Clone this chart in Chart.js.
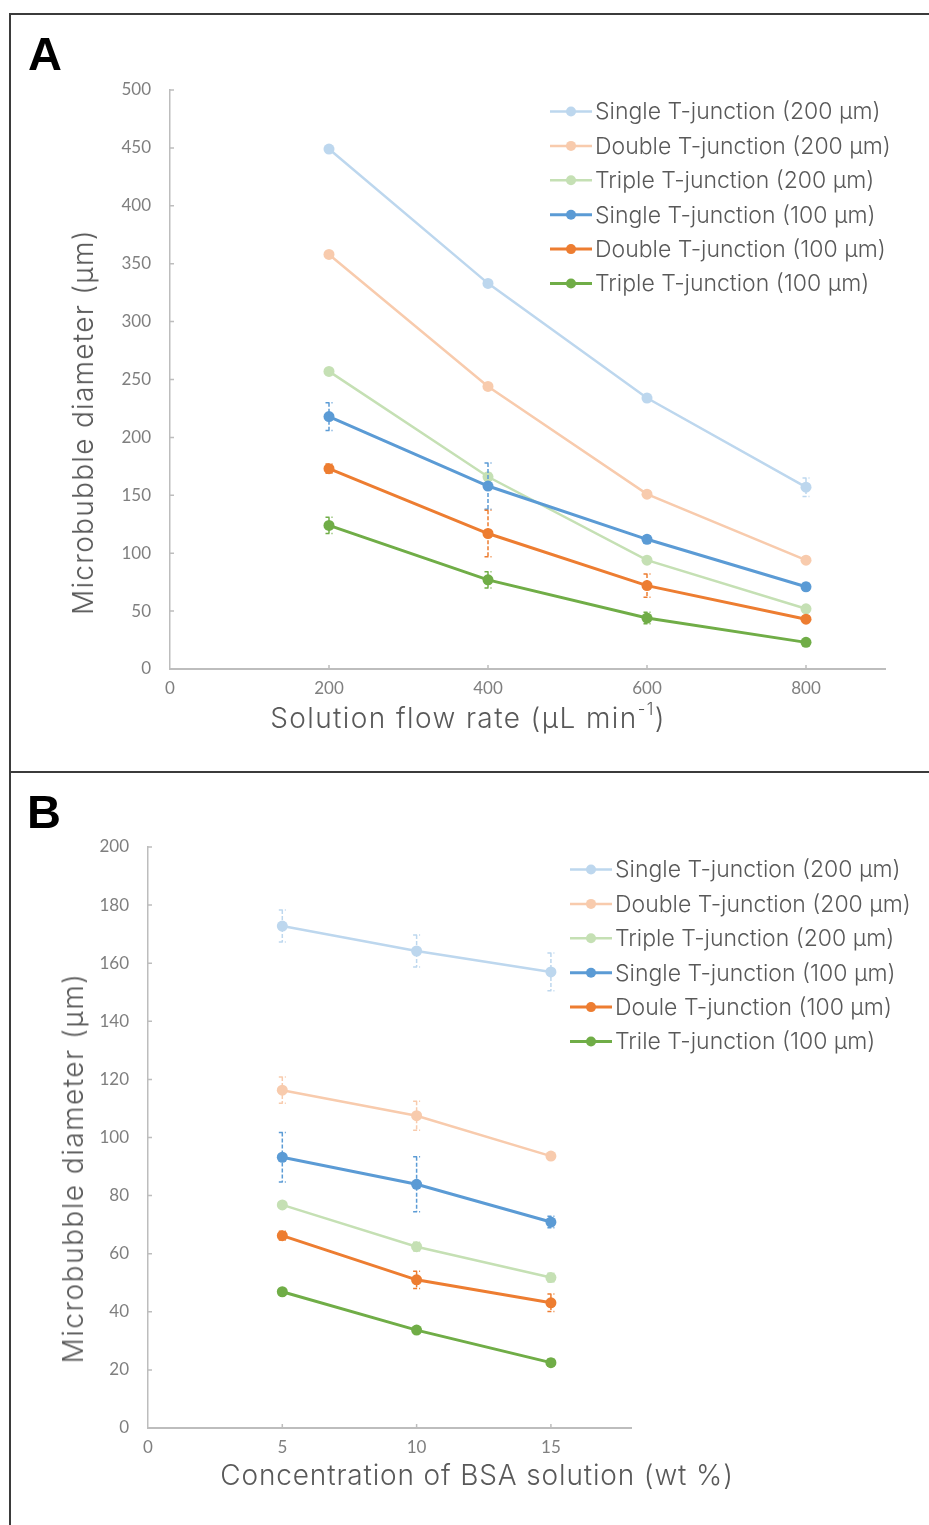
<!DOCTYPE html>
<html>
<head>
<meta charset="utf-8">
<title>Microbubble diameter</title>
<script src="https://cdn.jsdelivr.net/npm/chart.js@4.4.1/dist/chart.umd.min.js"></script>
<style>
  body { margin: 0; background: #fff; width: 929px; height: 1525px; overflow: hidden; position: relative; font-family: Lato, sans-serif; }
  .frame { position: absolute; box-sizing: border-box; border: 2px solid #3b3b3b; border-right: none; }
  #frameA { left: 9px; top: 13px; width: 930px; height: 760px; }
  #frameB { left: 9px; top: 771px; width: 930px; height: 800px; border-top: none; border-bottom: none; }
  .box { position: absolute; }
  #boxA { left: 12px; top: 16px; width: 917px; height: 755px; }
  #boxB { left: 12px; top: 774px; width: 917px; height: 751px; }
  .letter { position: absolute; font: bold 47px "Liberation Sans", Arial, sans-serif; line-height: 47px; color: #000; }
  .title { position: absolute; color: #595959; font-family: Inter, sans-serif; font-weight: 300; font-size: 28px; line-height: 1; white-space: nowrap; transform: translate(-50%, -50%); }
  .title.y { transform: translate(-50%, -50%) rotate(-90deg); }
  .title sup { font-size: 0.6em; line-height: 0; vertical-align: 0.75em; }
</style>
</head>
<body>
<div class="frame" id="frameA"></div>
<div class="frame" id="frameB"></div>

<div class="box" id="boxA"><canvas id="chartA"></canvas></div>
<div class="box" id="boxB"><canvas id="chartB"></canvas></div>

<div class="letter" style="left:28px; top:30px;">A</div>
<div class="letter" style="left:27px; top:788px;">B</div>

<div class="title y" style="left:83px; top:422px; letter-spacing:1.3px;">Microbubble diameter (μm)</div>
<div class="title" style="left:468px; top:718px; letter-spacing:1.4px;">Solution flow rate (μL min<sup>-1</sup>)</div>
<div class="title y" style="left:73px; top:1168px; letter-spacing:1.5px;">Microbubble diameter (μm)</div>
<div class="title" style="left:477px; top:1475px; letter-spacing:0.85px;">Concentration of BSA solution (wt %)</div>

<script>
// series colours, light = 200 µm channels, dark = 100 µm channels
const seriesColors = ['#bdd7ee', '#f8cbad', '#c5e0b4', '#5b9bd5', '#ed7d31', '#70ad47'];

// --- A: diameter vs solution flow rate ---
const flowRates = [200, 400, 600, 800];
const flowLabels = [
  'Single T-junction (200 μm)', 'Double T-junction (200 μm)', 'Triple T-junction (200 μm)',
  'Single T-junction (100 μm)', 'Double T-junction (100 μm)', 'Triple T-junction (100 μm)'
];
const flowSingle200 = [449, 333, 234, 157];
const flowDouble200 = [358, 244, 151, 94];
const flowTriple200 = [257, 166, 94, 52];
const flowSingle100 = [218, 158, 112, 71];
const flowDouble100 = [173, 117, 72, 43];
const flowTriple100 = [124, 77, 44, 23];

const flowSingle200Err = [2, 2, 3, 8];
const flowDouble200Err = [2, 2, 2, 2];
const flowTriple200Err = [2, 3, 2, 2];
const flowSingle100Err = [12, 20, 3, 3];
const flowDouble100Err = [4, 20, 10, 2];
const flowTriple100Err = [7, 7, 5, 2];

// --- B: diameter vs BSA concentration ---
const bsaConc = [5, 10, 15];
const bsaLabels = [
  'Single T-junction (200 μm)', 'Double T-junction (200 μm)', 'Triple T-junction (200 μm)',
  'Single T-junction (100 μm)', 'Doule T-junction (100 μm)', 'Trile T-junction (100 μm)'
];
const bsaSingle200 = [172.8, 164.2, 157.0];
const bsaDouble200 = [116.3, 107.5, 93.6];
const bsaTriple200 = [76.8, 62.4, 51.8];
const bsaSingle100 = [93.2, 83.9, 70.9];
const bsaDouble100 = [66.2, 51.0, 43.1];
const bsaTriple100 = [46.9, 33.7, 22.5];

const bsaSingle200Err = [5.5, 5.5, 6.5];
const bsaDouble200Err = [4.5, 5, 1];
const bsaTriple200Err = [1, 1.5, 1.5];
const bsaSingle100Err = [8.5, 9.5, 2];
const bsaDouble100Err = [1.5, 3, 3];
const bsaTriple100Err = [1, 1, 1.2];

const AXIS_GREY = '#bdbdbd';

function makeSeries(xs, ys, errs, label, i) {
  const color = seriesColors[i];
  return {
    label: label,
    data: xs.map((x, k) => ({ x: x, y: ys[k] })),
    errors: errs,
    borderColor: color,
    backgroundColor: color,
    pointBackgroundColor: color,
    pointBorderWidth: 0,
    pointRadius: 5.5,
    borderWidth: i < 3 ? 2.5 : 3,
    tension: 0,
    order: -i   // later series sit on top
  };
}

// dashed vertical error bars with short caps
const errorBars = {
  id: 'errorBars',
  afterDatasetDraw(chart, args) {
    const ds = chart.data.datasets[args.index];
    if (!ds.errors) return;
    const y = chart.scales.y;
    const ctx = chart.ctx;
    ctx.save();
    ctx.strokeStyle = ds.borderColor;
    ctx.lineWidth = 1.5;
    ctx.setLineDash([4, 2]);
    args.meta.data.forEach((pt, k) => {
      const v = ds.data[k].y, e = ds.errors[k];
      const top = y.getPixelForValue(v + e);
      const bot = y.getPixelForValue(v - e);
      ctx.beginPath();
      ctx.moveTo(pt.x, top); ctx.lineTo(pt.x, bot);
      ctx.moveTo(pt.x - 3.5, top); ctx.lineTo(pt.x + 3.5, top);
      ctx.moveTo(pt.x - 3.5, bot); ctx.lineTo(pt.x + 3.5, bot);
      ctx.stroke();
    });
    ctx.restore();
  }
};

// tick marks pointing into the plot area
const innerTicks = {
  id: 'innerTicks',
  afterDraw(chart) {
    const { ctx, chartArea, scales } = chart;
    ctx.save();
    ctx.strokeStyle = AXIS_GREY;
    ctx.lineWidth = 1.5;
    ctx.beginPath();
    scales.x.ticks.forEach(t => {
      if (t.value === 0) return;
      const px = scales.x.getPixelForValue(t.value);
      ctx.moveTo(px, chartArea.bottom);
      ctx.lineTo(px, chartArea.bottom - 4);
    });
    scales.y.ticks.forEach(t => {
      if (t.value === 0) return;
      const py = scales.y.getPixelForValue(t.value);
      ctx.moveTo(chartArea.left, py);
      ctx.lineTo(chartArea.left + 4, py);
    });
    ctx.stroke();
    ctx.restore();
  }
};

// line-and-marker legend placed freely on the canvas
const lineLegend = {
  id: 'lineLegend',
  afterDraw(chart, args, opts) {
    const ctx = chart.ctx;
    ctx.save();
    ctx.font = opts.font;
    ctx.fillStyle = opts.color;
    ctx.textBaseline = 'middle';
    chart.data.datasets.forEach((ds, i) => {
      const y = opts.y + i * opts.rowHeight;
      ctx.strokeStyle = ds.borderColor;
      ctx.lineWidth = ds.borderWidth;
      ctx.beginPath();
      ctx.moveTo(opts.x, y);
      ctx.lineTo(opts.x + opts.lineLength, y);
      ctx.stroke();
      ctx.fillStyle = ds.borderColor;
      ctx.beginPath();
      ctx.arc(opts.x + opts.lineLength / 2, y, 5, 0, Math.PI * 2);
      ctx.fill();
      ctx.fillStyle = opts.color;
      ctx.fillText(ds.label, opts.x + opts.lineLength + 3, y + 1);
    });
    ctx.restore();
  }
};

function axes(xMax, xStep, yMax, yStep, yWidth) {
  const tickFont = { family: 'Lato', size: 17 };
  return {
    x: {
      type: 'linear', min: 0, max: xMax,
      ticks: { stepSize: xStep, includeBounds: false, color: '#7f7f7f', font: tickFont, padding: 9, maxRotation: 0 },
      grid: { display: false, drawTicks: false },
      border: { color: AXIS_GREY, width: 2 },
      afterFit: s => { s.height = 82; }
    },
    y: {
      type: 'linear', min: 0, max: yMax,
      ticks: { stepSize: yStep, includeBounds: false, color: '#7f7f7f', font: tickFont, padding: 19 },
      grid: { display: false, drawTicks: false },
      border: { color: AXIS_GREY, width: 1.5 },
      afterFit: s => { s.width = yWidth; }
    }
  };
}

function makeChart(id, datasets, scales, padding, legendPos) {
  return new Chart(document.getElementById(id), {
    type: 'line',
    data: { datasets: datasets },
    options: {
      responsive: true,
      maintainAspectRatio: false,
      animation: false,
      layout: { padding: padding },
      scales: scales,
      plugins: {
        legend: { display: false },
        tooltip: { enabled: false },
        lineLegend: Object.assign({ rowHeight: 34.4, lineLength: 42, font: '300 23px Inter', color: '#595959' }, legendPos)
      }
    },
    plugins: [errorBars, innerTicks, lineLegend]
  });
}

const flowSeries = [flowSingle200, flowDouble200, flowTriple200, flowSingle100, flowDouble100, flowTriple100];
const flowErrs = [flowSingle200Err, flowDouble200Err, flowTriple200Err, flowSingle100Err, flowDouble100Err, flowTriple100Err];
const bsaSeries = [bsaSingle200, bsaDouble200, bsaTriple200, bsaSingle100, bsaDouble100, bsaTriple100];
const bsaErrs = [bsaSingle200Err, bsaDouble200Err, bsaTriple200Err, bsaSingle100Err, bsaDouble100Err, bsaTriple100Err];

makeChart('chartA',
  flowSeries.map((ys, i) => makeSeries(flowRates, ys, flowErrs[i], flowLabels[i], i)),
  axes(900, 200, 500, 50, 148),
  { left: 10, top: 74, right: 43.5, bottom: 20 },
  { x: 538, y: 95.5 });

makeChart('chartB',
  bsaSeries.map((ys, i) => makeSeries(bsaConc, ys, bsaErrs[i], bsaLabels[i], i)),
  axes(18, 5, 200, 20, 126),
  { left: 10, top: 73, right: 297.5, bottom: 15 },
  { x: 558, y: 95.5 });
</script>
</body>
</html>
